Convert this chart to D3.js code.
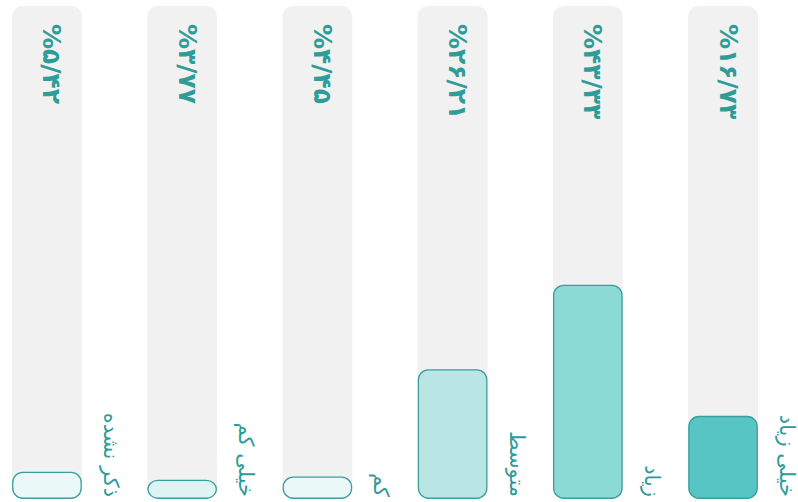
<!DOCTYPE html>
<html><head><meta charset="utf-8">
<script src="https://cdn.jsdelivr.net/npm/d3@7"></script>
<style>html,body{margin:0;padding:0;background:#fff;}svg{display:block;}</style>
</head><body><div id="chart"></div>
<script>
const categories = ["ذکر نشده", "خیلی کم", "کم", "متوسط", "زیاد", "خیلی زیاد"];
const values = [5.42, 3.77, 4.45, 26.21, 43.33, 16.73];
const valueLabels = ["%۵/۴۲", "%۳/۷۷", "%۴/۴۵", "%۲۶/۲۱", "%۴۳/۳۳", "%۱۶/۷۳"];
const fills = ["#EAF8F8", "#DDF3F4", "#EAF8F8", "#B9E6E5", "#8BDAD6", "#56C5C3"];

const W = 798, H = 502;
const svg = d3.select("#chart").append("svg").attr("width", W).attr("height", H);
const x = d3.scaleBand().domain(categories).range([12, 758]).paddingInner(0.483).paddingOuter(0);
const y = d3.scaleLinear().domain([0, 100]).range([499, 6]);
const teal = "#2E9C98";

const g = svg.selectAll("g.bar").data(categories).enter().append("g");
g.append("rect").attr("x", d => x(d)).attr("y", y(100)).attr("width", x.bandwidth())
  .attr("height", y(0) - y(100)).attr("rx", 11).attr("fill", "#F1F1F1");
g.append("rect").attr("x", (d) => x(d) + 0.75)
  .attr("y", (d, i) => y(values[i]))
  .attr("width", x.bandwidth() - 1.5)
  .attr("height", (d, i) => y(0) - y(values[i]) - 0.75)
  .attr("rx", 10).attr("fill", (d, i) => fills[i]).attr("stroke", "#3A9F9C").attr("stroke-width", 1.3);
g.append("text")
  .attr("transform", (d) => `translate(${x(d) + x.bandwidth() / 2 + 5},24) rotate(90)`)
  .attr("text-anchor", "start").attr("dominant-baseline", "central")
  .attr("font-family", "DejaVu Sans").attr("font-weight", "bold").attr("font-size", 25)
  .attr("fill", teal).text((d, i) => valueLabels[i]);
g.append("text")
  .attr("transform", (d) => `translate(${x(d) + x.bandwidth() + 29},497) rotate(90)`)
  .attr("text-anchor", "end").attr("dominant-baseline", "central")
  .attr("font-family", "DejaVu Sans").attr("font-size", 21)
  .attr("fill", teal).text(d => d);
</script></body></html>
